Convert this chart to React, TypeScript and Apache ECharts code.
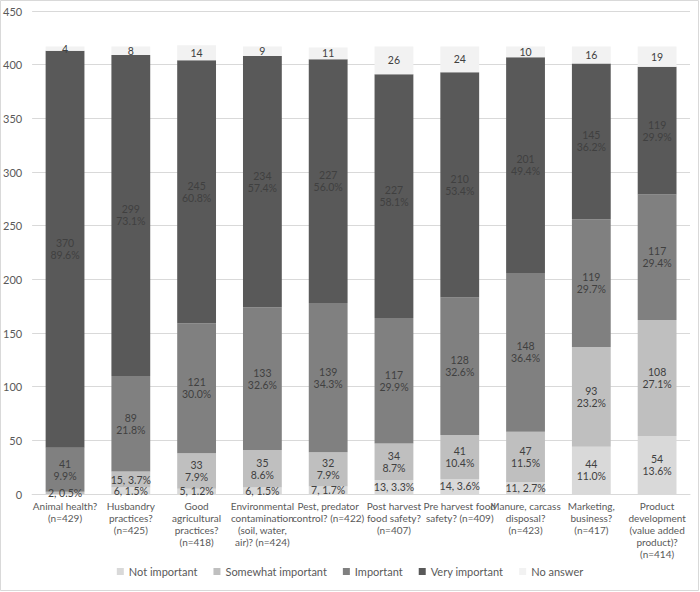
import React, { useEffect, useRef } from "react";
import * as echarts from "echarts";

const categories = [
  "Animal health?\n(n=429)",
  "Husbandry\npractices?\n(n=425)",
  "Good\nagricultural\npractices?\n(n=418)",
  "Environmental\ncontamination\n(soil, water,\nair)? (n=424)",
  "Pest, predator\ncontrol? (n=422)",
  "Post harvest\nfood safety?\n(n=407)",
  "Pre harvest food\nsafety? (n=409)",
  "Manure, carcass\ndisposal?\n(n=423)",
  "Marketing,\nbusiness?\n(n=417)",
  "Product\ndevelopment\n(value added\nproduct)?\n(n=414)",
];

const notImportant = [0, 6, 5, 6, 7, 13, 14, 11, 44, 54];
const notImportantPct = ["", "1.5%", "1.2%", "1.5%", "1.7%", "3.3%", "3.6%", "2.7%", "11.0%", "13.6%"];
const somewhatImportant = [2, 15, 33, 35, 32, 34, 41, 47, 93, 108];
const somewhatImportantPct = ["0.5%", "3.7%", "7.9%", "8.6%", "7.9%", "8.7%", "10.4%", "11.5%", "23.2%", "27.1%"];
const important = [41, 89, 121, 133, 139, 117, 128, 148, 119, 117];
const importantPct = ["9.9%", "21.8%", "30.0%", "32.6%", "34.3%", "29.9%", "32.6%", "36.4%", "29.7%", "29.4%"];
const veryImportant = [370, 299, 245, 234, 227, 227, 210, 201, 145, 119];
const veryImportantPct = ["89.6%", "73.1%", "60.8%", "57.4%", "56.0%", "58.1%", "53.4%", "49.4%", "36.2%", "29.9%"];
const noAnswer = [4, 8, 14, 9, 11, 26, 24, 10, 16, 19];

const yTicks = { min: 0, max: 450, interval: 50 };

export default function App() {
  const ref = useRef<HTMLDivElement>(null);
  useEffect(() => {
    document.body.style.margin = "0";
    const chart = echarts.init(ref.current!, null, { renderer: "svg" });
    const font = "Lato, 'Open Sans', sans-serif";
    const mk = (name: string, data: number[], pct: string[] | null, color: string) => ({
      name,
      type: "bar",
      stack: "total",
      barCategoryGap: "41%",
      data,
      itemStyle: { color },
      label: {
        show: true,
        position: "inside",
        color: "#404040",
        fontSize: 10.5,
        fontFamily: font,
        lineHeight: 12,
        formatter: (p: any) => {
          const v = p.value as number;
          if (!v) return "";
          if (!pct) return String(v);
          const s = pct[p.dataIndex];
          return v < 20 ? `${v}, ${s}` : `${v}\n${s}`;
        },
      },
    });
    chart.setOption({
      animation: false,
      textStyle: { fontFamily: font },
      grid: { left: 32, right: 10, top: 11, bottom: 98 },
      legend: {
        bottom: 10,
        left: "center",
        itemWidth: 7,
        itemHeight: 7,
        itemGap: 16,
        icon: "rect",
        textStyle: { color: "#595959", fontSize: 11, fontFamily: font },
        data: ["Not important", "Somewhat important", "Important", "Very important", "No answer"],
      },
      xAxis: {
        type: "category",
        data: categories,
        axisLine: { lineStyle: { color: "#d9d9d9" } },
        axisTick: { show: false },
        axisLabel: {
          color: "#595959",
          fontSize: 10,
          fontFamily: font,
          lineHeight: 12,
          margin: 6,
          interval: 0,
        },
      },
      yAxis: {
        type: "value",
        min: yTicks.min,
        max: yTicks.max,
        interval: yTicks.interval,
        axisLine: { show: false },
        axisTick: { show: false },
        splitLine: { lineStyle: { color: "#d9d9d9" } },
        axisLabel: { color: "#595959", fontSize: 11, fontFamily: font, margin: 10 },
      },
      graphic: [
        {
          type: "rect",
          shape: { x: 0.5, y: 0.5, width: 698, height: 590 },
          style: { fill: "none", stroke: "#d9d9d9", lineWidth: 1 },
          silent: true,
        },
      ],
      series: [
        mk("Not important", notImportant, notImportantPct, "#d9d9d9"),
        mk("Somewhat important", somewhatImportant, somewhatImportantPct, "#bfbfbf"),
        mk("Important", important, importantPct, "#808080"),
        mk("Very important", veryImportant, veryImportantPct, "#595959"),
        mk("No answer", noAnswer, null, "#f2f2f2"),
      ],
    });
    return () => chart.dispose();
  }, []);
  return <div ref={ref} style={{ width: 700, height: 592 }} />;
}
